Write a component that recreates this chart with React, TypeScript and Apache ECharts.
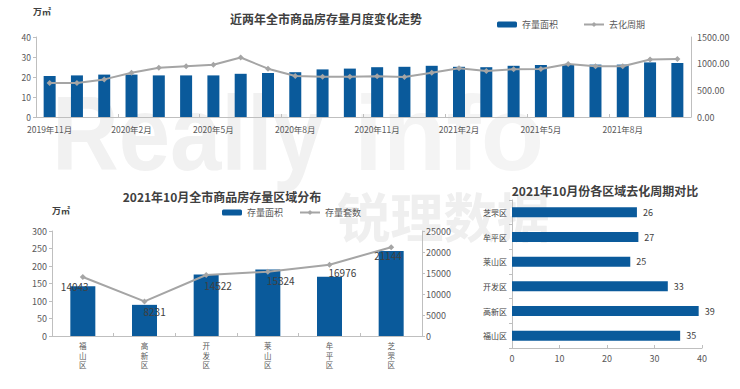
import React, { useEffect, useRef } from "react";
import * as echarts from "echarts";

const months = [
  "2019年11月", "2019年12月", "2020年1月", "2020年2月", "2020年3月", "2020年4月",
  "2020年5月", "2020年6月", "2020年7月", "2020年8月", "2020年9月", "2020年10月",
  "2020年11月", "2020年12月", "2021年1月", "2021年2月", "2021年3月", "2021年4月",
  "2021年5月", "2021年6月", "2021年7月", "2021年8月", "2021年9月", "2021年10月",
];
const stockArea = [
  20.5, 20.8, 21.2, 21.2, 20.8, 20.8, 20.8, 21.6, 22.0, 22.4, 23.8, 24.2,
  24.9, 25.1, 25.6, 25.1, 24.9, 25.6, 26.0, 26.2, 26.2, 26.2, 27.3, 27.0,
];
const turnoverCycle = [
  638, 638, 705, 831, 922, 952, 978, 1115, 906, 769, 756, 753,
  765, 748, 829, 915, 862, 896, 900, 994, 952, 950, 1078, 1088,
];

const districts = ["福山区", "高新区", "开发区", "莱山区", "牟平区", "芝罘区"];
const districtArea = [142, 89, 176, 190, 169, 243];
const districtUnits = [14043, 8231, 14522, 15324, 16976, 21144];
const districtCycle = [35.4, 39.3, 32.8, 24.9, 26.6, 26.3];

const leftTicks1 = { min: 0, max: 40, interval: 10 };
const rightTicks1 = { min: 0, max: 1500, interval: 500 };
const leftTicks2 = { min: 0, max: 300, interval: 50 };
const rightTicks2 = { min: 0, max: 25000, interval: 5000 };
const xTicks3 = { min: 0, max: 40, interval: 10 };

const BLUE = "#0A5A9B";
const GRAY = "#A5A5A5";
const AXIS = "#BFBFBF";
const LABEL = "#595959";
const FONT = "'Noto Sans CJK SC', 'Noto Sans', sans-serif";

const watermarkSvg =
  "<svg xmlns='http://www.w3.org/2000/svg' width='740' height='389'>" +
  "<text x='52' y='170' font-family='Liberation Sans' font-weight='bold' font-size='106' fill='#f1f1f1' textLength='272' lengthAdjust='spacingAndGlyphs'>Really</text>" +
  "<text x='354' y='170' font-family='Liberation Sans' font-weight='bold' font-size='106' fill='#f4f4f4' textLength='190' lengthAdjust='spacingAndGlyphs'>info</text>" +
  "<text x='337' y='238' font-family='Noto Sans CJK SC' font-weight='bold' font-size='53' fill='#efefef' textLength='213' lengthAdjust='spacingAndGlyphs'>锐理数据</text>" +
  "</svg>";
const watermarkUrl = "data:image/svg+xml;charset=utf-8," + encodeURIComponent(watermarkSvg);

export default function App() {
  const ref = useRef<HTMLDivElement>(null);
  useEffect(() => {
    if (!ref.current) return;
    const chart = echarts.init(ref.current, undefined, { renderer: "svg" });
    const axisLine = { show: true, lineStyle: { color: AXIS, width: 1 } };
    const axisLabel = { color: LABEL, fontSize: 9, fontFamily: FONT };
    const labelOffsets = [[-30, 9], [-9, 10], [-10, 10], [-9, 9], [-9, 8], [-25, 8]];

    chart.setOption({
      animation: false,
      textStyle: { fontFamily: FONT },
      title: [
        { text: "近两年全市商品房存量月度变化走势", left: 321, top: 7, textAlign: "center",
          textStyle: { fontSize: 12, fontWeight: "bold", color: "#404040", fontFamily: FONT } },
        { text: "2021年10月全市商品房存量区域分布", left: 217, top: 185, textAlign: "center",
          textStyle: { fontSize: 12, fontWeight: "bold", color: "#404040", fontFamily: FONT } },
        { text: "2021年10月份各区域去化周期对比", left: 600, top: 179, textAlign: "center",
          textStyle: { fontSize: 12, fontWeight: "bold", color: "#404040", fontFamily: FONT } },
      ],
      legend: [
        { left: 492, top: 15, itemWidth: 20, itemHeight: 6, itemGap: 25,
          data: ["存量面积", "去化周期"], selectedMode: false,
          textStyle: { fontSize: 9, color: LABEL, fontFamily: FONT } },
        { left: 217, top: 203, itemWidth: 20, itemHeight: 6, itemGap: 16,
          data: ["存量面积", "存量套数"], selectedMode: false,
          textStyle: { fontSize: 9, color: LABEL, fontFamily: FONT } },
      ],
      graphic: [
        { type: "image", x: 0, y: 0, z: -10, silent: true,
          style: { image: watermarkUrl, width: 740, height: 389 } },
        { type: "text", x: 33, y: 7, style: { text: "万㎡", fontSize: 9, fontWeight: "bold", fill: "#404040", fontFamily: FONT, verticalAlign: "top" } },
        { type: "text", x: 52, y: 206, style: { text: "万㎡", fontSize: 9, fontWeight: "bold", fill: "#404040", fontFamily: FONT, verticalAlign: "top" } },
      ],
      grid: [
        { left: 36, right: 49, top: 37, height: 80 },
        { left: 52, right: 318, top: 231, height: 105 },
        { left: 512, right: 38, top: 200, height: 148 },
      ],
      xAxis: [
        { type: "category", gridIndex: 0, data: months, axisLine,
          axisTick: { show: true, interval: 2, inside: true, length: 3, lineStyle: { color: AXIS } },
          axisLabel: { ...axisLabel, fontSize: 8.5, lineHeight: 10, interval: 2, margin: 7 } },
        { type: "category", gridIndex: 1, data: districts, axisLine,
          axisTick: { show: true, inside: true, length: 3, lineStyle: { color: AXIS } },
          axisLabel: { ...axisLabel, fontSize: 7.5, lineHeight: 9.5, margin: 5,
            formatter: (v: string) => v.split("").join("\n") } },
        { type: "value", gridIndex: 2, ...xTicks3, axisLine,
          axisTick: { show: true, inside: true, length: 3, lineStyle: { color: AXIS } },
          splitLine: { show: false }, axisLabel: { ...axisLabel, margin: 6 } },
      ],
      yAxis: [
        { type: "value", gridIndex: 0, ...leftTicks1, axisLine,
          axisTick: { show: true, length: 3, lineStyle: { color: AXIS } },
          splitLine: { show: false }, axisLabel: { ...axisLabel, fontSize: 8.5, lineHeight: 9, margin: 5 } },
        { type: "value", gridIndex: 0, position: "right", ...rightTicks1, axisLine,
          axisTick: { show: false }, splitLine: { show: false },
          axisLabel: { ...axisLabel, margin: 6, formatter: (v: number) => v.toFixed(2) } },
        { type: "value", gridIndex: 1, ...leftTicks2, axisLine,
          axisTick: { show: true, length: 3, lineStyle: { color: AXIS } },
          splitLine: { show: false }, axisLabel: { ...axisLabel, margin: 5 } },
        { type: "value", gridIndex: 1, position: "right", ...rightTicks2, axisLine,
          axisTick: { show: true, length: 3, lineStyle: { color: AXIS } },
          splitLine: { show: false },
          axisLabel: { ...axisLabel, margin: 4, formatter: (v: number) => String(v) } },
        { type: "category", gridIndex: 2, data: districts, axisLine,
          axisTick: { show: true, length: 3, lineStyle: { color: AXIS } },
          axisLabel: { ...axisLabel, fontSize: 8, color: "#404040", margin: 5 } },
      ],
      series: [
        { name: "存量面积", type: "bar", xAxisIndex: 0, yAxisIndex: 0, data: stockArea,
          barWidth: 12, itemStyle: { color: BLUE } },
        { name: "去化周期", type: "line", xAxisIndex: 0, yAxisIndex: 1, data: turnoverCycle,
          symbol: "diamond", symbolSize: 6, itemStyle: { color: GRAY },
          lineStyle: { color: GRAY, width: 2 } },
        { name: "存量面积", type: "bar", xAxisIndex: 1, yAxisIndex: 2, data: districtArea,
          barWidth: 25, itemStyle: { color: BLUE } },
        { name: "存量套数", type: "line", xAxisIndex: 1, yAxisIndex: 3,
          data: districtUnits.map((v, i) => ({ value: v, label: { offset: labelOffsets[i] } })),
          symbol: "diamond", symbolSize: 6, itemStyle: { color: GRAY },
          lineStyle: { color: GRAY, width: 2 },
          label: { show: true, position: "right", distance: 5, fontSize: 10, color: "#404040", fontFamily: FONT } },
        { name: "去化周期对比", type: "bar", xAxisIndex: 2, yAxisIndex: 4, data: districtCycle,
          barWidth: 10, itemStyle: { color: BLUE },
          label: { show: true, position: "right", distance: 6, fontSize: 9, color: "#404040", fontFamily: FONT,
            formatter: (p: any) => String(Math.round(p.value)) } },
      ],
    });
    return () => chart.dispose();
  }, []);
  return (
    <div ref={ref} style={{ position: "fixed", left: 0, top: 0, width: 740, height: 389, background: "#ffffff" }} />
  );
}
